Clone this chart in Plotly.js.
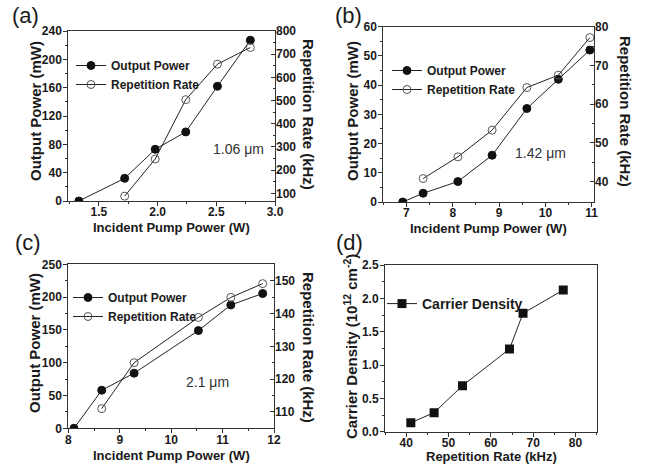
<!DOCTYPE html>
<html>
<head>
<meta charset="utf-8">
<script src="https://cdn.plot.ly/plotly-3.0.1.min.js"></script>
<style>
html,body{margin:0;padding:0;background:#fff;}
#chart{width:647px;height:464px;}
</style>
</head>
<body>
<div id="chart"></div>
<script>
// ---- data ----
// (a) 1.06 um
const aPumpPow = [1.33, 1.72, 1.98, 2.24, 2.51, 2.79];
const aPower   = [0, 32, 73, 97.5, 162, 227];
const aPumpRep = [1.72, 1.98, 2.24, 2.51, 2.79];
const aRep     = [88, 248, 504, 657, 729];
// (b) 1.42 um
const bPumpPow = [6.92, 7.36, 8.11, 8.85, 9.60, 10.28, 10.96];
const bPower   = [0, 3, 7, 16, 32, 42, 52];
const bPumpRep = [7.36, 8.11, 8.85, 9.60, 10.28, 10.96];
const bRep     = [40.8, 46.4, 53.3, 64.3, 67.5, 77.2];
// (c) 2.1 um
const cPumpPow = [8.11, 8.65, 9.28, 10.53, 11.16, 11.78];
const cPower   = [0, 58, 84, 149, 188, 205.5];
const cPumpRep = [8.65, 9.28, 10.53, 11.16, 11.78];
const cRep     = [111, 125, 138.8, 144.9, 149.1];
// (d) carrier density
const dRepRate = [41.1, 46.6, 53.3, 64.4, 67.6, 77.1];
const dDensity = [0.135, 0.285, 0.69, 1.24, 1.775, 2.125];

const seriesNames = ['Output Power', 'Repetition Rate', 'Carrier Density'];
const panelLabels = ['(a)', '(b)', '(c)', '(d)'];
const wavelengths = ['1.06 \u03bcm', '1.42 \u03bcm', '2.1 \u03bcm'];
const xTitlePump = 'Incident Pump Power (W)';
const xTitleRep = 'Repetition Rate (kHz)';
const yTitlePow = 'Output Power (mW)';
const yTitleRep = 'Repetition Rate (kHz)';
const yTitleDen = 'Carrier Density (10<sup>12</sup> cm<sup>-2</sup>)';

// ---- layout helpers ----
const W = 647, H = 464;
const FONT = 'Liberation Sans, Arial, sans-serif';
const INK = '#1a1a1a';
const AX = '#333';
const px = v => v / W;
const py = v => 1 - v / H;
const lineStyle = {color: '#222', width: 1};
const filled = {symbol: 'circle', size: 8, color: '#111', line: {color: '#111', width: 1}};
const open = {symbol: 'circle-open', size: 8, color: '#555', line: {color: '#555', width: 1}};
const square = {symbol: 'square', size: 9, color: '#111'};
const tickFont = {family: FONT, size: 12, color: INK, weight: 700};

function baseX(dom, range, dtick, fmt, anchor) {
  return {domain: dom, range: range, dtick: dtick, tick0: 0, tickformat: fmt, anchor: anchor,
    showgrid: false, zeroline: false, showline: true, linecolor: AX, linewidth: 1, mirror: true,
    ticks: 'outside', ticklen: 4, tickwidth: 1, tickcolor: AX, tickfont: tickFont,
    ticklabelstandoff: -4,
    minor: {ticks: 'outside', ticklen: 2, tickcolor: AX, dtick: dtick / 2, showgrid: false}};
}
function topX(over, range, dtick, anchor) {
  return {overlaying: over, side: 'top', anchor: anchor, range: range, dtick: dtick, tick0: 0,
    showgrid: false, zeroline: false, showline: false, showticklabels: false,
    ticks: 'inside', ticklen: 4, tickcolor: AX,
    minor: {ticks: 'inside', ticklen: 2, tickcolor: AX, dtick: dtick / 2, showgrid: false}};
}
function baseY(dom, range, dtick, fmt, anchor) {
  return {domain: dom, range: range, dtick: dtick, tick0: 0, tickformat: fmt, anchor: anchor,
    showgrid: false, zeroline: false, showline: true, linecolor: AX, linewidth: 1, mirror: true,
    ticks: 'outside', ticklen: 4, tickwidth: 1, tickcolor: AX, tickfont: tickFont,
    ticklabelstandoff: -1,
    minor: {ticks: 'outside', ticklen: 2, tickcolor: AX, dtick: dtick / 2, showgrid: false}};
}
function rightY(over, range, dtick, anchor, labels) {
  return {overlaying: over, side: 'right', anchor: anchor, range: range, dtick: dtick, tick0: 0,
    showgrid: false, zeroline: false, showline: false, showticklabels: labels,
    ticks: 'inside', ticklen: 4, tickcolor: AX, tickfont: tickFont,
    minor: {ticks: 'inside', ticklen: 2, tickcolor: AX, dtick: dtick / 2, showgrid: false}};
}

const traces = [
  {x: aPumpPow, y: aPower, name: seriesNames[0], xaxis: 'x', yaxis: 'y', legend: 'legend',
   mode: 'lines+markers', line: lineStyle, marker: filled},
  {x: aPumpRep, y: aRep, name: seriesNames[1], xaxis: 'x', yaxis: 'y2', legend: 'legend',
   mode: 'lines+markers', line: lineStyle, marker: open},
  {x: bPumpPow, y: bPower, name: seriesNames[0], xaxis: 'x3', yaxis: 'y3', legend: 'legend2',
   mode: 'lines+markers', line: lineStyle, marker: filled},
  {x: bPumpRep, y: bRep, name: seriesNames[1], xaxis: 'x3', yaxis: 'y4', legend: 'legend2',
   mode: 'lines+markers', line: lineStyle, marker: open},
  {x: cPumpPow, y: cPower, name: seriesNames[0], xaxis: 'x5', yaxis: 'y5', legend: 'legend3',
   mode: 'lines+markers', line: lineStyle, marker: filled},
  {x: cPumpRep, y: cRep, name: seriesNames[1], xaxis: 'x5', yaxis: 'y6', legend: 'legend3',
   mode: 'lines+markers', line: lineStyle, marker: open},
  {x: dRepRate, y: dDensity, name: seriesNames[2], xaxis: 'x7', yaxis: 'y7', legend: 'legend4',
   mode: 'lines+markers', line: lineStyle, marker: square}
];

const domA = {x: [px(68.3), px(275)], y: [py(201), py(31)]};
const domB = {x: [px(383.3), px(594)], y: [py(202), py(26.7)]};
const domC = {x: [px(68.3), px(274)], y: [py(428.3), py(264.3)]};
const domD = {x: [px(385), px(596.7)], y: [py(431.7), py(265)]};

const rA = {x: [1.24, 3.0], y: [0, 240], y2: [67, 800]};
const rB = {x: [6.5, 11.05], y: [0, 60], y2: [34.75, 80]};
const rC = {x: [8, 12], y: [0, 250], y2: [105, 155]};
const rD = {x: [35, 85], y: [0, 2.5]};

function legendAt(x, y, size) {
  return {x: px(x), y: py(y), xanchor: 'left', yanchor: 'top', bgcolor: 'rgba(0,0,0,0)',
    borderwidth: 0, tracegroupgap: 0, itemwidth: 30,
    font: {family: FONT, size: size, color: INK, weight: 700}};
}

function ann(text, x, y, size, opts) {
  return Object.assign({text: text, x: px(x), y: py(y), xref: 'paper', yref: 'paper',
    showarrow: false, xanchor: 'center', yanchor: 'middle',
    font: {family: FONT, size: size, color: INK}}, opts || {});
}
const bold = (s) => ({family: FONT, size: s, color: INK, weight: 700});
const thin = {family: FONT, size: 14, color: '#333'};

const annotations = [
  ann(panelLabels[0], 25, 16, 22), ann(panelLabels[1], 348, 16, 22),
  ann(panelLabels[2], 28, 243, 22), ann(panelLabels[3], 349, 243, 22),
  ann(wavelengths[0], 238, 149, 14, {font: thin}),
  ann(wavelengths[1], 540, 153, 14, {font: thin}),
  ann(wavelengths[2], 207, 382, 14, {font: thin}),
  ann(xTitlePump, 171, 227, 13, {font: bold(13)}),
  ann(xTitlePump, 488, 228, 13, {font: bold(13)}),
  ann(xTitlePump, 171, 455, 13, {font: bold(13)}),
  ann(xTitleRep, 491, 456, 13, {font: bold(13)}),
  ann(yTitlePow, 35, 111, 15, {font: bold(15), textangle: -90}),
  ann(yTitlePow, 352, 111, 15, {font: bold(15), textangle: -90}),
  ann(yTitlePow, 34, 343, 15, {font: bold(15), textangle: -90}),
  ann(yTitleDen, 350, 347, 15, {font: bold(15), textangle: -90}),
  ann(yTitleRep, 309, 114, 15, {font: bold(15), textangle: 90}),
  ann(yTitleRep, 626, 111, 15, {font: bold(15), textangle: 90}),
  ann(yTitleRep, 309, 347, 15, {font: bold(15), textangle: 90})
];

const layout = {
  width: W, height: H, margin: {l: 0, r: 0, t: 0, b: 0},
  paper_bgcolor: '#fff', plot_bgcolor: '#fff',
  font: {family: FONT, color: INK},
  showlegend: true,
  xaxis: baseX(domA.x, rA.x, 0.5, '.1f', 'y'),
  xaxis2: topX('x', rA.x, 0.5, 'y'),
  yaxis: baseY(domA.y, rA.y, 40, '', 'x'),
  yaxis2: rightY('y', rA.y2, 100, 'x', true),
  xaxis3: baseX(domB.x, rB.x, 1, '', 'y3'),
  xaxis4: topX('x3', rB.x, 1, 'y3'),
  yaxis3: baseY(domB.y, rB.y, 10, '', 'x3'),
  yaxis4: rightY('y3', rB.y2, 10, 'x3', true),
  xaxis5: baseX(domC.x, rC.x, 1, '', 'y5'),
  xaxis6: topX('x5', rC.x, 1, 'y5'),
  yaxis5: baseY(domC.y, rC.y, 50, '', 'x5'),
  yaxis6: rightY('y5', rC.y2, 10, 'x5', true),
  xaxis7: baseX(domD.x, rD.x, 10, '', 'y7'),
  xaxis8: topX('x7', rD.x, 10, 'y7'),
  yaxis7: baseY(domD.y, rD.y, 0.5, '.1f', 'x7'),
  yaxis8: rightY('y7', rD.y, 0.5, 'x7', false),
  legend: legendAt(71, 51, 12),
  legend2: legendAt(387, 56, 12),
  legend3: legendAt(68, 283, 12),
  legend4: legendAt(382, 288, 14),
  annotations: annotations
};

Plotly.newPlot('chart', traces, layout, {displayModeBar: false, staticPlot: true});
</script>
</body>
</html>
